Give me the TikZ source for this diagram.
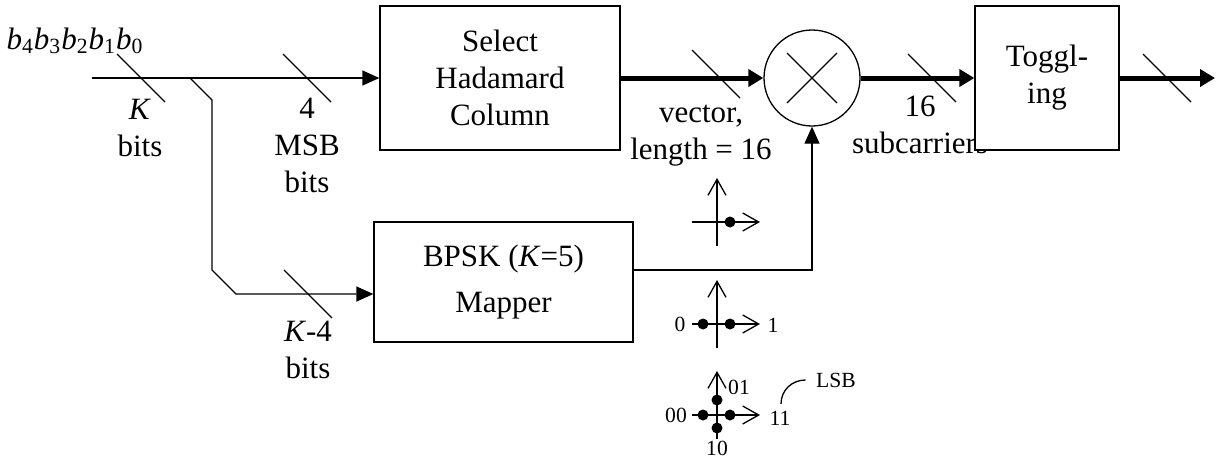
\documentclass[tikz,border=0pt]{standalone}
\usepackage{fontspec}
\setmainfont{Liberation Serif}
\usetikzlibrary{arrows.meta, positioning}
\tikzset{
  blk/.style = {draw, align=center, fill=white, inner sep=0pt},
  mult/.style = {draw, circle, minimum size=48pt, inner sep=0pt},
  bus/.style = {line width=2.5pt, -{Triangle[length=7.5pt,width=8.5pt]}},
  axis/.style = {-{Straight Barb[length=8pt,width=9pt]}},
  dot/.style = {circle, fill=black, inner sep=0pt, minimum size=5.5pt},
  lbl/.style = {font=\fontsize{10.8}{13}\selectfont, inner sep=0pt}
}
\newcommand\bbit[1]{\textit{b}\textsubscript{#1}}

\begin{document}
\begin{tikzpicture}[x=0.5pt, y=-0.5pt, line width=0.65pt,
  >={Triangle[length=8.5pt,width=7.5pt]},
  font=\fontsize{15.5}{18.5}\selectfont]
\useasboundingbox (0,0) rectangle (1219,461);

% blocks
\node [blk, minimum width=120pt, minimum height=72pt] (sel) at (500,78) {Select\\Hadamard\\Column};
\node [blk, minimum width=129.5pt, minimum height=60pt] (map) at (503.5,282) {BPSK (\textit{K}=5)\\[4.5pt]Mapper};
\node [mult] (mul) at (812,78) {};
\draw (mul) ++(-25,-25) -- ++(50,50);
\draw (mul) ++(25,-25) -- ++(-50,50);

% input and branch
\node (word) at (75,41) {\bbit{4}\bbit{3}\bbit{2}\bbit{1}\bbit{0}};
\coordinate (in) at (92,78);
\coordinate (br) at (190,78);
\coordinate (b1) at (212,100);
\coordinate (b2) at (212,270);
\coordinate (b3) at (236,294);
\draw [->] (in) -- (sel.west);
\draw [->] (br) -- (b1) -- (b2) -- (b3) -- (b3 -| map.west);
\draw [->] (map.east |- b2) -| (mul.south);

% buses
\coordinate (out) at (1215,78);
\draw [bus] (sel.east) -- (mul.west);

% bus width marks
\foreach \p in {(141,78), (307,78), (716,74), (932,78), (1167,78), (308,294)}
  \draw \p ++(-24,-24) -- ++(48,48);

\node [align=center] (kbits) at (140,128) {\textit{K}\\bits};
\node [align=center] (msb) at (307,145) {4\\MSB\\bits};
\node [align=center] (kfour) at (308,350) {\textit{K}-4\\bits};
\node [align=center] (vec) at (701,136) {vector,\\length = 16};
\node [align=center] (sub) at (920,125) {16\\subcarriers};

\node [blk, minimum width=72pt, minimum height=72pt] (tog) at (1047,78) {Toggl-\\ing};
\draw [bus] (mul.east) -- (tog.west);
\draw [bus] (tog.east) -- (out);

% constellations
\foreach \cy/\nm in {222/ca, 324/cb, 415/cc} {
  \coordinate (\nm) at (717,\cy);
  \draw [axis] (\nm) ++(0,24) -- ++(0,-68);
  \draw [axis] (\nm) ++(-25,0) -- ++(68,0);
}
\node [dot] (ca1) at (730,222) {};
\node [dot] (cb0) at (703,324) {};
\node [dot] (cb1) at (730,324) {};
\node [dot] (cc0) at (703,415) {};
\node [dot] (cc3) at (730,415) {};
\node [dot] (cc1) at (717,400) {};
\node [dot] (cc2) at (717,428) {};

\node [lbl] (l0) at (680,324) {0};
\node [lbl] (l1) at (773,325) {1};
\node [lbl] (l00) at (676,415) {00};
\node [lbl] (l11) at (780,418) {11};
\node [lbl] (l01) at (739,387) {01};
\node [lbl] (l10) at (717,448) {10};
\node [lbl] (lsb) at (836,380) {LSB};
\coordinate (lsbc) at (781,404);
\draw (lsbc) .. controls (781,390) and (792,380) .. ([xshift=-5pt]lsb.west);
\end{tikzpicture}
\end{document}
